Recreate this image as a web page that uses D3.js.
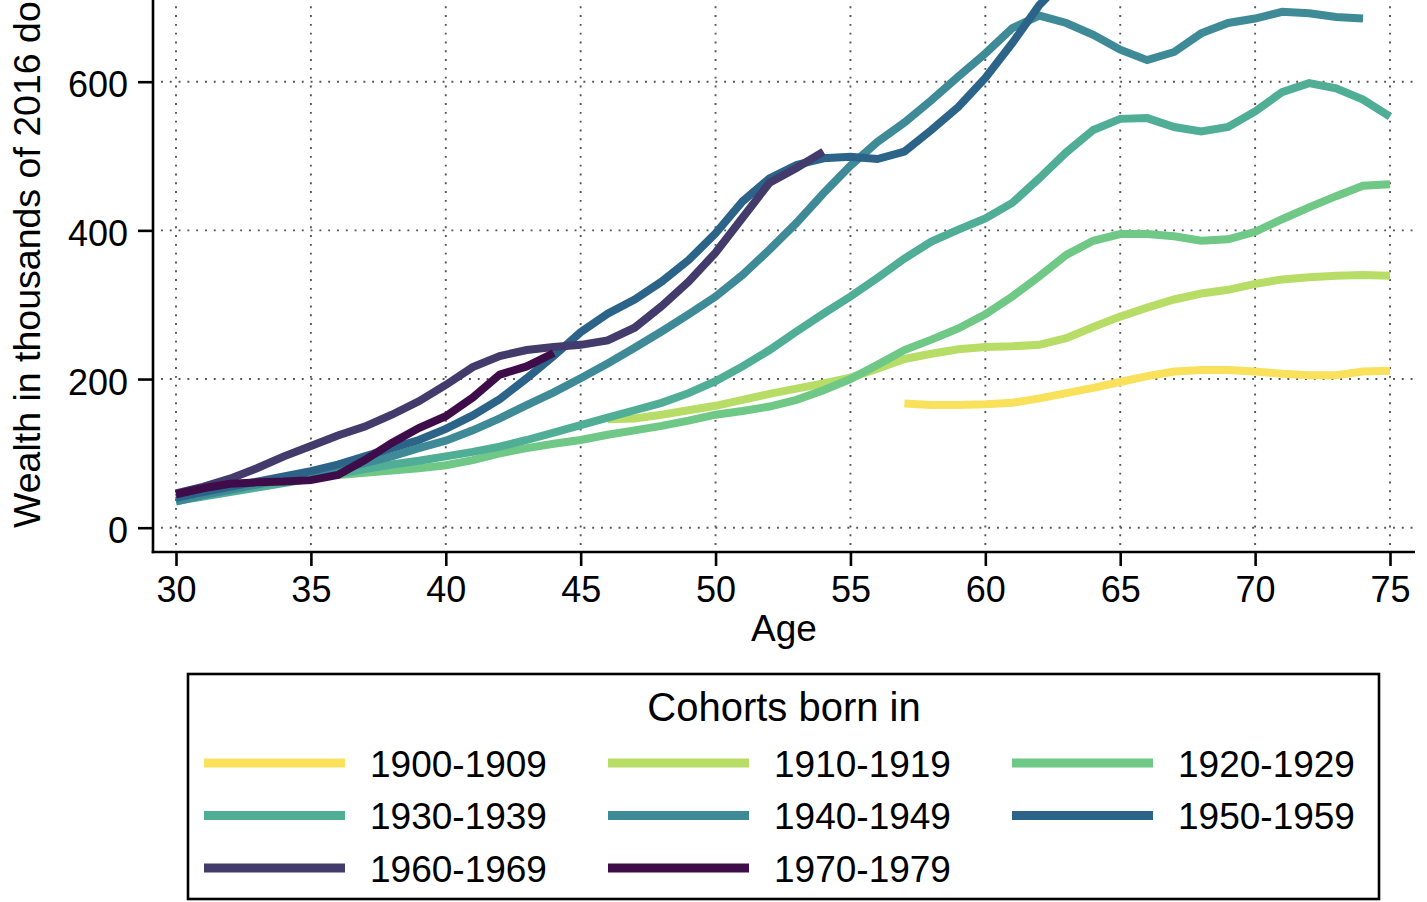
<!DOCTYPE html>
<html><head><meta charset="utf-8">
<script src="https://cdn.jsdelivr.net/npm/d3@7"></script>
<style>
body{margin:0;background:#fff;overflow:hidden}
svg{display:block}
text{font-family:"Liberation Sans",Arial,Helvetica,sans-serif;fill:#000}
</style>
</head><body>
<svg id="c" width="1427" height="902"></svg>
<script>
const ages = [30,31,32,33,34,35,36,37,38,39,40,41,42,43,44,45,46,47,48,49,50,51,52,53,54,55,56,57,58,59,60,61,62,63,64,65,66,67,68,69,70,71,72,73,74,75];
const cohorts = ["1900-1909","1910-1919","1920-1929","1930-1939","1940-1949","1950-1959","1960-1969","1970-1979"];
const colors = ["#f9e15b","#b7dd67","#6fc886","#4fae95","#3e8a96","#2c6489","#423b6c","#3f0c4a"];
const xTicks = [30,35,40,45,50,55,60,65,70,75];
const yTicks = [0,200,400,600];

const w1900 = [null,null,null,null,null,null,null,null,null,null,null,null,null,null,null,null,null,null,null,null,null,null,null,null,null,null,null,
  167,165,165,166,168,174,181,188,196,204,210,212,212,210,207,205,205,210,211];
const w1910 = [null,null,null,null,null,null,null,null,null,null,null,null,null,null,null,null,
  146,147,152,158,164,172,180,187,194,202,214,227,234,240,243,244,246,255,270,284,296,307,315,320,328,334,337,339,340,339];
const w1920 = [null,null,null,null,null,null,
  71,74,77,80,84,91,100,107,113,118,125,131,137,144,152,157,163,172,185,200,219,239,253,268,287,311,338,367,386,395,395,392,386,388,398,415,431,446,460,462];
const w1930 = [36,42,48,54,60,66,72,79,85,90,96,102,109,118,128,138,148,158,168,181,197,217,239,264,288,311,336,362,385,401,416,437,470,505,535,550,551,539,533,539,560,586,598,591,576,553];
const w1940 = [35,44,51,58,65,72,79,87,96,107,117,131,147,165,182,201,221,242,264,287,311,340,374,410,450,487,519,545,575,607,638,672,689,679,663,643,629,640,665,679,685,694,692,687,685,null];
const w1950 = [40,48,55,62,69,76,85,96,107,118,133,151,173,201,231,263,288,307,331,360,396,439,470,488,497,499,496,506,535,566,605,652,703,740,
  null,null,null,null,null,null,null,null,null,null,null,null];
const w1960 = [46,55,66,80,96,110,124,136,152,170,192,216,231,239,243,246,252,269,298,331,370,417,464,484,506,
  null,null,null,null,null,null,null,null,null,null,null,null,null,null,null,null,null,null,null,null,null];
const w1970 = [45,53,59,61,62,64,71,91,114,134,150,175,206,217,235,
  null,null,null,null,null,null,null,null,null,null,null,null,null,null,null,null,null,null,null,null,null,null,null,null,null,null,null,null,null,null,null];

const series = [w1900,w1910,w1920,w1930,w1940,w1950,w1960,w1970];

const svg = d3.select("#c");
const x = d3.scaleLinear().domain([30,75]).range([176,1390]);
const y = d3.scaleLinear().domain([0,600]).range([527.7,81.7]);

const axisX = 153, axisY = 552, plotRight = 1415;

// gridlines
const grid = svg.append("g").attr("stroke","#555").attr("stroke-width",1.9).attr("stroke-dasharray","1.9 6.9");
grid.selectAll("line.h").data(yTicks).join("line").attr("class","h")
  .attr("x1",161).attr("x2",plotRight).attr("y1",d=>y(d)).attr("y2",d=>y(d));
grid.selectAll("line.v").data(xTicks).join("line").attr("class","v")
  .attr("x1",d=>x(d)).attr("x2",d=>x(d)).attr("y1",545).attr("y2",0);

// lines
const line = d3.line().defined(d=>d[1]!=null).x(d=>x(d[0])).y(d=>y(d[1]));
svg.append("g").selectAll("path").data(series).join("path")
  .attr("d",s=>line(ages.map((a,i)=>[a,s[i]])))
  .attr("fill","none").attr("stroke",(s,i)=>colors[i])
  .attr("stroke-width",8).attr("stroke-linejoin","miter").attr("stroke-miterlimit",3).attr("stroke-linecap","butt");

// axes
const yAxis = svg.append("g").attr("transform",`translate(${axisX},0)`)
  .call(d3.axisLeft(y).tickValues(yTicks).tickSize(15).tickPadding(10));
yAxis.select(".domain").remove();
yAxis.selectAll(".tick line").attr("stroke","#000").attr("stroke-width",2.6);
yAxis.selectAll(".tick text").attr("font-size",36).attr("dy","0.42em").attr("font-family","Liberation Sans, Arial, sans-serif");

const xAxis = svg.append("g").attr("transform",`translate(0,${axisY})`)
  .call(d3.axisBottom(x).tickValues(xTicks).tickSize(14).tickPadding(10));
xAxis.select(".domain").remove();
xAxis.selectAll(".tick line").attr("stroke","#000").attr("stroke-width",2.6);
xAxis.selectAll(".tick text").attr("font-size",36).attr("font-family","Liberation Sans, Arial, sans-serif");

svg.append("line").attr("x1",axisX).attr("x2",axisX).attr("y1",0).attr("y2",axisY+1.3)
  .attr("stroke","#000").attr("stroke-width",2.6);
svg.append("line").attr("x1",axisX-1.3).attr("x2",plotRight).attr("y1",axisY).attr("y2",axisY)
  .attr("stroke","#000").attr("stroke-width",2.6);

// axis titles
svg.append("text").attr("x",784).attr("y",641).attr("text-anchor","middle").attr("font-size",37).text("Age");
svg.append("text").attr("transform","translate(40,528) rotate(-90)").attr("text-anchor","start")
  .attr("font-size",37.5).text("Wealth in thousands of 2016 dollars");

// legend
const lg = svg.append("g");
lg.append("rect").attr("x",188).attr("y",674).attr("width",1191).attr("height",225)
  .attr("fill","#fff").attr("stroke","#000").attr("stroke-width",2.6);
lg.append("text").attr("x",784).attr("y",721).attr("text-anchor","middle").attr("font-size",40).text("Cohorts born in");
const colX = [204,608,1012], rowY = [763,815.5,868];
const items = lg.selectAll("g.item").data(cohorts).join("g").attr("class","item")
  .attr("transform",(d,i)=>`translate(${colX[i%3]},${rowY[Math.floor(i/3)]})`);
items.append("line").attr("x1",0).attr("x2",141).attr("y1",0).attr("y2",0)
  .attr("stroke",(d,i)=>colors[i]).attr("stroke-width",9);
items.append("text").attr("x",166).attr("y",13.5).attr("font-size",37).text(d=>d);
</script>
</body></html>
